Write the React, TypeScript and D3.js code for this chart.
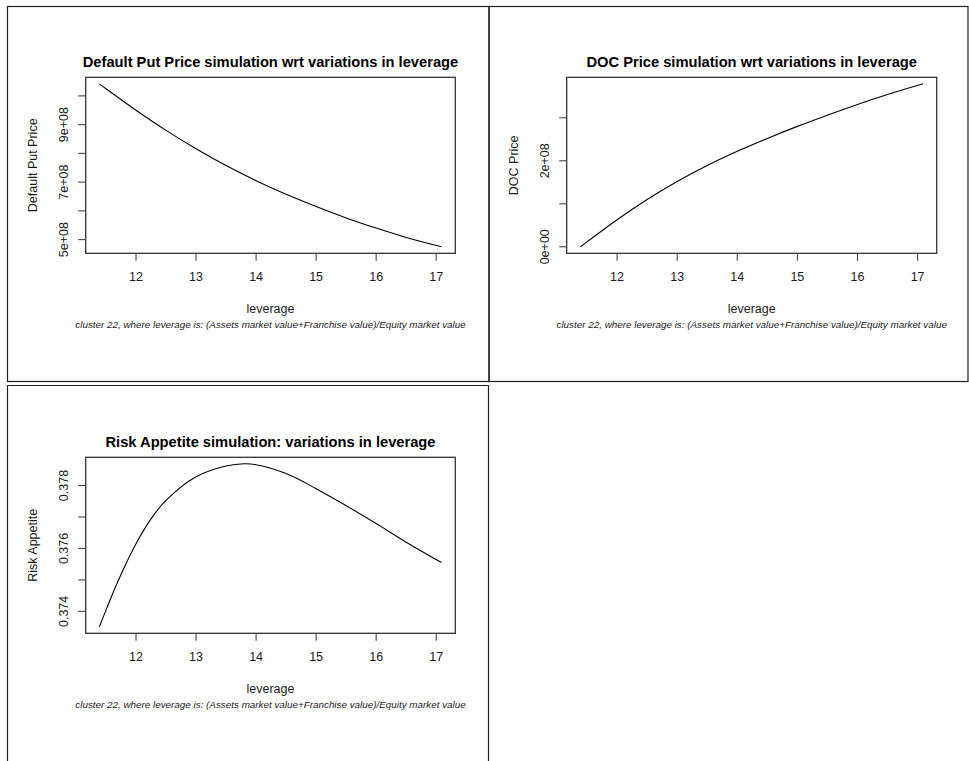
import React from "react";
import * as d3 from "d3";

// ---------- data ----------
const leverage = [11.39, 11.5, 12, 12.5, 13, 13.5, 14, 14.5, 15, 15.5, 16, 16.5, 17.09];
const putPrice = [10.42e8, 10.25e8, 9.5e8, 8.8e8, 8.16e8, 7.575e8, 7.05e8, 6.575e8, 6.15e8, 5.755e8, 5.4e8, 5.075e8, 4.75e8];
const docPrice = [0, 0.115e8, 0.63e8, 1.1e8, 1.52e8, 1.89e8, 2.22e8, 2.52e8, 2.8e8, 3.06e8, 3.31e8, 3.54e8, 3.79e8];

const riskLeverage = [11.39, 11.5, 11.69, 12, 12.25, 12.5, 13, 13.5, 13.8, 14, 14.5, 15, 15.5, 16, 16.5, 17.09];
const riskAppetite = [0.37351, 0.37404, 0.37492, 0.37615, 0.37694, 0.37753, 0.37828, 0.37862, 0.37869, 0.37866, 0.37838, 0.3779, 0.37736, 0.37679, 0.3762, 0.37555];

const xTicks = [12, 13, 14, 15, 16, 17];
const putTicks = [5e8, 6e8, 7e8, 8e8, 9e8, 10e8];
const putLabels = ["5e+08", "", "7e+08", "", "9e+08", ""];
const docTicks = [0, 1e8, 2e8, 3e8];
const docLabels = ["0e+00", "", "2e+08", ""];
const riskTicks = [0.374, 0.375, 0.376, 0.377, 0.378];
const riskLabels = ["0.374", "", "0.376", "", "0.378"];

const titles = [
  "Default Put Price simulation wrt variations in leverage",
  "DOC Price simulation wrt variations in leverage",
  "Risk Appetite simulation: variations in leverage",
];
const yLabels = ["Default Put Price", "DOC Price", "Risk Appetite"];
const xLabel = "leverage";
const subtitle = "cluster 22, where leverage is: (Assets market value+Franchise value)/Equity market value";

const FONT = "'Liberation Sans', Arial, Helvetica, sans-serif";

function padDomain(vals: number[]): [number, number] {
  const [a, b] = d3.extent(vals) as [number, number];
  const p = (b - a) * 0.04;
  return [a - p, b + p];
}

interface PanelProps {
  left: number;
  top: number;
  right: number;
  bottom: number;
  xs: number[];
  ys: number[];
  yTicks: number[];
  yTickLabels: string[];
  title: string;
  yLabel: string;
}

function Panel({ left, top, right, bottom, xs, ys, yTicks, yTickLabels, title, yLabel }: PanelProps) {
  const x = d3.scaleLinear().domain(padDomain(xs)).range([left, right]);
  const y = d3.scaleLinear().domain(padDomain(ys)).range([bottom, top]);
  const line = d3
    .line<number>()
    .x((_, i) => x(xs[i]))
    .y((d) => y(d))
    .curve(d3.curveCatmullRom.alpha(0.5));
  const cx = (left + right) / 2;
  const cy = (top + bottom) / 2;
  const ink = "#1a1a1a";
  return (
    <g fontFamily={FONT}>
      <text x={cx} y={top - 10.5} textAnchor="middle" fontWeight="bold" fontSize={14.7} fill="#000">
        {title}
      </text>
      <rect x={left} y={top} width={right - left} height={bottom - top} fill="none" stroke="#333" strokeWidth={1.3} />
      {xTicks.map((t) => (
        <g key={"x" + t}>
          <line x1={x(t)} x2={x(t)} y1={bottom} y2={bottom + 7.5} stroke="#444" strokeWidth={1.1} />
          <text x={x(t)} y={bottom + 28} textAnchor="middle" fontSize={12.5} fill={ink}>
            {t}
          </text>
        </g>
      ))}
      {yTicks.map((t, i) => (
        <g key={"y" + t}>
          <line x1={left - 7.5} x2={left} y1={y(t)} y2={y(t)} stroke="#444" strokeWidth={1.1} />
          {yTickLabels[i] && (
            <text
              transform={`translate(${left - 17.5},${y(t)}) rotate(-90)`}
              textAnchor="middle"
              fontSize={12.5}
              fill={ink}
            >
              {yTickLabels[i]}
            </text>
          )}
        </g>
      ))}
      <text transform={`translate(${left - 48.5},${cy}) rotate(-90)`} textAnchor="middle" fontSize={12.5} fill={ink}>
        {yLabel}
      </text>
      <text x={cx} y={bottom + 59.5} textAnchor="middle" fontSize={12.5} fill={ink}>
        {xLabel}
      </text>
      <text x={cx} y={bottom + 74.5} textAnchor="middle" fontSize={9.85} fontStyle="italic" fill={ink}>
        {subtitle}
      </text>
      <path d={line(ys) || ""} fill="none" stroke="#000" strokeWidth={1.1} />
    </g>
  );
}

export default function App() {
  return (
    <svg
      width={969}
      height={761}
      style={{ position: "absolute", left: 0, top: 0, background: "#fff" }}
    >
      <rect x={0} y={0} width={969} height={761} fill="#fff" />
      {/* panel frames */}
      <rect x={7.5} y={6.5} width={481.5} height={375} fill="none" stroke="#222" strokeWidth={1.2} />
      <rect x={489} y={6.5} width={479} height={375} fill="none" stroke="#222" strokeWidth={1.2} />
      <path d="M7.5,770 V385.5 H488.5 V770" fill="none" stroke="#222" strokeWidth={1.2} />

      <Panel
        left={85.7}
        top={77.3}
        right={455.3}
        bottom={253.3}
        xs={leverage}
        ys={putPrice}
        yTicks={putTicks}
        yTickLabels={putLabels}
        title={titles[0]}
        yLabel={yLabels[0]}
      />
      <Panel
        left={566.7}
        top={77.3}
        right={936.7}
        bottom={253.3}
        xs={leverage}
        ys={docPrice}
        yTicks={docTicks}
        yTickLabels={docLabels}
        title={titles[1]}
        yLabel={yLabels[1]}
      />
      <Panel
        left={85.7}
        top={457.3}
        right={455.3}
        bottom={633.3}
        xs={riskLeverage}
        ys={riskAppetite}
        yTicks={riskTicks}
        yTickLabels={riskLabels}
        title={titles[2]}
        yLabel={yLabels[2]}
      />
    </svg>
  );
}
